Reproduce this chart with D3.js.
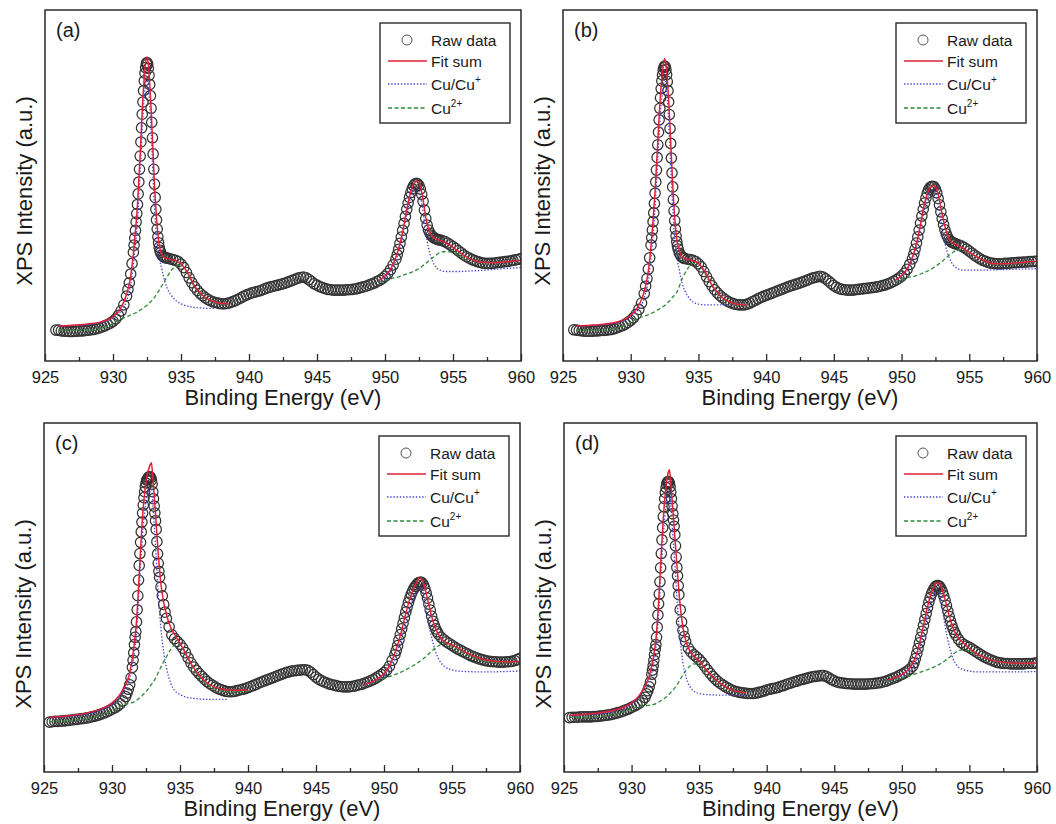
<!DOCTYPE html>
<html>
<head>
<meta charset="utf-8">
<script src="https://cdn.jsdelivr.net/npm/d3@7"></script>
<style>
  html, body { margin: 0; padding: 0; background: #fff; }
  svg { display: block; font-family: "Liberation Sans", Arial, sans-serif; }
</style>
</head>
<body>
<script>
// ---------------- data ----------------
// Binding energies of the scan points (eV)
const rawEnergy = [
  925.4, 925.6, 925.8, 926.0, 926.2, 926.4, 926.6, 926.8, 927.0, 927.2, 927.4, 927.6, 927.8, 928.0, 928.2, 928.4, 928.6, 928.8, 929.0, 929.2, 929.4, 929.6, 929.8, 930.0, 930.2, 930.4, 930.6, 930.8,
  931.0, 931.1, 931.2, 931.3, 931.4, 931.5, 931.55, 931.6, 931.65, 931.7, 931.75, 931.8, 931.85, 931.9, 931.95, 932.0, 932.05, 932.1, 932.15, 932.2, 932.25, 932.3, 932.35, 932.4, 932.45, 932.5, 932.55, 932.6, 932.65, 932.7, 932.75, 932.8, 932.85, 932.9, 932.95, 933.0, 933.05, 933.1, 933.15, 933.2, 933.25, 933.3, 933.35, 933.4, 933.45, 933.5, 933.6, 933.7, 933.8, 933.9, 934.0,
  934.2, 934.4, 934.6, 934.8, 935.0, 935.2, 935.4, 935.6, 935.8, 936.0, 936.2, 936.4, 936.6, 936.8, 937.0, 937.2, 937.4, 937.6, 937.8, 938.0, 938.2, 938.4, 938.6, 938.8, 939.0, 939.2, 939.4, 939.6, 939.8, 940.0, 940.2, 940.4, 940.6, 940.8, 941.0, 941.2, 941.4, 941.6, 941.8, 942.0, 942.2, 942.4, 942.6, 942.8, 943.0, 943.2, 943.4, 943.6, 943.8, 944.0, 944.2, 944.4, 944.6, 944.8, 945.0, 945.2, 945.4, 945.6, 945.8, 946.0, 946.2, 946.4, 946.6, 946.8, 947.0, 947.2, 947.4, 947.6, 947.8, 948.0, 948.2, 948.4, 948.6, 948.8, 949.0, 949.2, 949.4, 949.6, 949.8, 950.0, 950.2, 950.4, 950.6,
  950.8, 950.9, 951.0, 951.1, 951.2, 951.3, 951.4, 951.5, 951.6, 951.7, 951.8, 951.9, 952.0, 952.1, 952.2, 952.3, 952.4, 952.5, 952.6, 952.7, 952.8, 952.9, 953.0, 953.1, 953.2, 953.3, 953.4, 953.5, 953.6, 953.7, 953.8, 953.9, 954.0,
  954.2, 954.4, 954.6, 954.8, 955.0, 955.2, 955.4, 955.6, 955.8, 956.0, 956.2, 956.4, 956.6, 956.8, 957.0, 957.2, 957.4, 957.6, 957.8, 958.0, 958.2, 958.4, 958.6, 958.8, 959.0, 959.2, 959.4, 959.6, 959.8, 960.0
];

// Measured Cu 2p intensity (a.u.), one list per sample
const rawA = [
  null, null, 8.8, 8.8, 8.6, 8.5, 8.5, 8.4, 8.4, 8.5, 8.5, 8.6, 8.6, 8.7, 8.8, 8.9, 9.0, 9.2, 9.4, 9.7, 10.0, 10.4, 10.8, 11.3, 12.0, 13.0, 14.3, 16.0,
  18.5, 20.4, 22.3, 24.8, 27.8, 31.0, 33.0, 35.0, 37.2, 39.6, 42.0, 44.6, 47.6, 51.0, 54.6, 58.4, 62.4, 66.4, 70.3, 73.8, 77.0, 79.8, 82.0, 83.6, 84.7, 85.0, 84.6, 83.4, 81.4, 78.8, 75.6, 72.0, 68.0, 63.6, 59.0, 54.6, 50.4, 46.6, 43.2, 40.2, 37.6, 35.4, 33.7, 32.4, 31.5, 30.9, 30.1, 29.7, 29.5, 29.4, 29.3,
  29.1, 28.9, 28.7, 28.3, 27.6, 26.6, 25.2, 23.7, 22.3, 21.1,
  20.1, 19.3, 18.6, 18.0, 17.5, 17.1, 16.8, 16.6, 16.4, 16.3,
  16.3, 16.4, 16.6, 16.9, 17.2, 17.6, 18.0, 18.4, 18.8, 19.1,
  19.4, 19.6, 19.8, 20.0, 20.3, 20.6, 20.9, 21.1, 21.3, 21.5,
  21.7, 21.9, 22.1, 22.4, 22.7, 23.0, 23.3, 23.6, 23.8, 23.9,
  23.7, 23.2, 22.6, 22.0, 21.6, 21.2, 20.9, 20.6, 20.4, 20.3,
  20.2, 20.2, 20.2, 20.2, 20.2, 20.3, 20.3, 20.4, 20.5, 20.7,
  20.9, 21.1, 21.3, 21.6, 21.9, 22.2, 22.6, 23.0, 23.5, 24.1,
  24.9, 26.0, 27.4,
  29.0, 30.3, 31.8, 33.5, 35.3, 37.2, 39.2, 41.2, 43.2, 45.0, 46.6, 48.0, 49.1, 49.9, 50.4, 50.6, 50.5, 50.0, 49.0, 47.5, 45.5, 43.0, 40.6, 38.7, 37.3, 36.4, 35.8, 35.4, 35.1, 34.9, 34.7, 34.6, 34.5,
  34.3, 34.0, 33.6, 33.1, 32.6, 32.0, 31.4, 30.8, 30.2, 29.7, 29.3, 28.9, 28.6, 28.3, 28.1, 27.9, 27.8, 27.8, 27.8, 27.9, 28.0, 28.1, 28.2, 28.3, 28.4, 28.5, 28.7, 28.8, 29.0, 29.2
];
const rawB = [
  null, null, 8.9, 8.8, 8.7, 8.6, 8.5, 8.5, 8.5, 8.5, 8.6, 8.6, 8.7, 8.7, 8.8, 8.9, 9.0, 9.2, 9.5, 9.8, 10.1, 10.5, 11.0, 11.6, 12.3, 13.3, 14.7, 16.5,
  19.2, 21.3, 23.5, 26.2, 29.4, 33.0, 35.1, 37.3, 39.7, 42.2, 44.9, 47.8, 51.0, 54.4, 58.0, 61.6, 65.2, 68.7, 72.0, 75.0, 77.6, 79.8, 81.5, 82.8, 83.6, 84.0, 83.8, 83.0, 81.6, 79.6, 77.0, 73.8, 70.2, 66.2, 62.0, 57.8, 53.6, 49.6, 46.0, 42.8, 40.0, 37.6, 35.6, 34.0, 32.8, 31.9, 30.7, 30.0, 29.6, 29.3, 29.2,
  29.0, 28.9, 28.7, 28.3, 27.7, 26.8, 25.5, 24.0, 22.6, 21.4,
  20.3, 19.4, 18.6, 18.0, 17.4, 16.9, 16.6, 16.3, 16.1, 16.0,
  16.0, 16.0, 16.2, 16.5, 16.9, 17.3, 17.7, 18.1, 18.4, 18.7,
  19.0, 19.3, 19.6, 19.9, 20.2, 20.5, 20.8, 21.1, 21.4, 21.6,
  21.9, 22.1, 22.4, 22.7, 23.0, 23.3, 23.6, 23.8, 24.0, 24.1,
  23.9, 23.4, 22.8, 22.1, 21.5, 21.0, 20.6, 20.4, 20.3, 20.2,
  20.2, 20.2, 20.3, 20.4, 20.5, 20.6, 20.7, 20.8, 20.9, 21.0,
  21.1, 21.3, 21.5, 21.7, 22.0, 22.3, 22.7, 23.1, 23.6, 24.2,
  25.0, 26.1, 27.5,
  29.1, 30.4, 31.9, 33.6, 35.4, 37.3, 39.3, 41.3, 43.2, 45.0, 46.5, 47.8, 48.8, 49.4, 49.7, 49.8, 49.6, 49.0, 47.9, 46.3, 44.5, 42.5, 40.6, 38.9, 37.4, 36.2, 35.3, 34.6, 34.2, 33.9, 33.7, 33.5, 33.4,
  33.1, 32.8, 32.4, 31.9, 31.3, 30.7, 30.1, 29.6, 29.1, 28.7, 28.4, 28.1, 27.9, 27.8, 27.7, 27.7, 27.7, 27.8, 27.8, 27.9, 28.0, 28.0, 28.1, 28.1, 28.2, 28.2, 28.3, 28.3, 28.4, 28.4
];
const rawC = [
  14.3, 14.4, 14.5, 14.5, 14.6, 14.6, 14.7, 14.8, 14.9, 15.0, 15.1, 15.2, 15.3, 15.4, 15.5, 15.7, 15.9, 16.1, 16.3, 16.6, 16.9, 17.2, 17.6, 18.0, 18.4, 18.9, 19.5, 20.4,
  21.6, 22.6, 23.7, 25.0, 27.0, 30.0, 32.0, 34.2, 36.5, 38.6, 40.2, 43.0, 46.5, 50.5, 55.0, 59.2, 62.6, 65.8, 68.8, 71.6, 74.2, 76.5, 78.6, 80.3, 81.7, 82.8, 83.6, 83.8, 84.2, 84.5, 84.6, 84.6, 84.3, 83.6, 82.5, 80.3, 78.3, 76.2, 74.2, 72.0, 69.5, 66.0, 62.5, 59.8, 57.5, 55.8, 53.0, 50.5, 48.0, 45.8, 44.0,
  41.6, 39.3, 38.2, 37.4, 36.6, 35.5, 34.2, 32.7, 31.3, 30.1,
  29.1, 28.2, 27.4, 26.6, 25.9, 25.3, 24.8, 24.3, 23.9, 23.6,
  23.3, 23.1, 23.0, 23.0, 23.1, 23.3, 23.5, 23.7, 23.9, 24.2,
  24.5, 24.8, 25.1, 25.5, 25.8, 26.1, 26.4, 26.7, 27.0, 27.3,
  27.6, 27.9, 28.2, 28.5, 28.7, 28.9, 29.0, 29.1, 29.2, 29.3,
  29.3, 29.1, 28.6, 27.9, 27.2, 26.6, 26.2, 25.8, 25.5, 25.2,
  25.0, 24.8, 24.6, 24.5, 24.4, 24.4, 24.4, 24.5, 24.6, 24.8,
  25.0, 25.2, 25.5, 25.8, 26.1, 26.5, 26.9, 27.4, 27.9, 28.5,
  29.2, 30.3, 32.0,
  33.6, 34.8, 36.2, 37.8, 39.4, 41.0, 42.6, 44.2, 45.8, 47.2, 48.6, 49.8, 50.9, 51.8, 52.6, 53.2, 53.7, 54.1, 54.3, 54.4, 54.2, 53.6, 52.6, 51.3, 49.8, 48.1, 46.4, 44.7, 43.2, 42.0, 41.0, 40.2, 39.5,
  38.6, 37.9, 37.3, 36.8, 36.3, 35.8, 35.3, 34.9, 34.5, 34.1, 33.7, 33.3, 33.0, 32.7, 32.4, 32.2, 32.0, 31.8, 31.7, 31.6, 31.6, 31.5, 31.5, 31.5, 31.6, 31.6, 31.7, 31.9, 32.2, 32.6
];
const rawD = [
  15.6, 15.7, 15.7, 15.7, 15.8, 15.8, 15.8, 15.8, 15.8, 15.9, 15.9, 16.0, 16.1, 16.2, 16.3, 16.4, 16.6, 16.8, 17.0, 17.2, 17.5, 17.8, 18.1, 18.5, 18.9, 19.3, 19.8, 20.5,
  21.4, 22.4, 23.3, 24.4, 25.8, 28.0, 29.2, 30.5, 32.0, 33.6, 35.2, 36.5, 38.6, 41.5, 45.0, 48.2, 51.0, 54.5, 58.5, 62.6, 66.5, 70.0, 73.2, 76.0, 78.3, 80.1, 81.5, 82.5, 83.0, 83.2, 83.2, 82.7, 81.7, 80.2, 78.3, 76.2, 74.0, 72.2, 70.4, 68.0, 64.8, 61.6, 58.6, 56.2, 53.4, 50.8, 46.5, 43.0, 40.6, 38.8, 37.4,
  35.5, 34.4, 33.6, 33.0, 32.3, 31.4, 30.4, 29.3, 28.3, 27.4,
  26.6, 25.9, 25.3, 24.8, 24.3, 23.9, 23.5, 23.2, 23.0, 22.8,
  22.7, 22.6, 22.5, 22.5, 22.5, 22.6, 22.8, 23.0, 23.2, 23.5,
  23.7, 23.9, 24.0, 24.2, 24.5, 24.7, 25.0, 25.3, 25.5, 25.8,
  26.0, 26.3, 26.5, 26.7, 26.9, 27.1, 27.3, 27.4, 27.5, 27.6,
  27.6, 27.4, 27.0, 26.5, 26.1, 25.8, 25.6, 25.5, 25.4, 25.3,
  25.3, 25.2, 25.2, 25.2, 25.2, 25.2, 25.2, 25.3, 25.3, 25.4,
  25.5, 25.6, 25.8, 26.0, 26.3, 26.6, 26.9, 27.2, 27.6, 28.0,
  28.4, 28.9, 29.5,
  30.3, 31.3, 32.5, 33.9, 35.4, 37.0, 38.6, 40.3, 42.0, 43.7, 45.4, 47.1, 48.7, 50.0, 51.1, 52.0, 52.7, 53.2, 53.4, 53.4, 53.1, 52.5, 51.6, 50.5, 49.2, 47.7, 46.1, 44.6, 43.2, 42.0, 40.9, 40.0, 39.2,
  38.0, 37.1, 36.5, 36.1, 35.7, 35.2, 34.7, 34.2, 33.7, 33.2, 32.8, 32.4, 32.1, 31.8, 31.5, 31.3, 31.2, 31.1, 31.1, 31.0, 31.0, 31.0, 31.0, 31.0, 31.0, 31.1, 31.1, 31.1, 31.2, 31.2
];

// Energies of the fitted curves: 2p3/2 window, then 2p1/2 window
const fitEnergy = [
  925.4, 926.0, 927.0, 928.0, 929.0, 929.5, 930.0, 930.5, 931.0, 931.3, 931.6, 931.8, 932.0, 932.2, 932.4, 932.5, 932.6, 932.7, 932.8, 932.9, 933.0, 933.2, 933.4, 933.6, 933.8, 934.0, 934.3, 934.6, 935.0, 935.5, 936.0, 936.5, 937.0, 937.5, 938.0, 938.5, 939.0, 939.5, 940.0,
  948.5, 949.0, 949.5, 950.0, 950.5, 951.0, 951.3, 951.6, 951.9, 952.2, 952.4, 952.6, 952.8, 953.0, 953.2, 953.5, 953.8, 954.1, 954.5, 955.0, 955.5, 956.0, 957.0, 958.0, 959.0, 960.0
];

// Fit sum, Cu/Cu+ component and Cu2+ component for each sample
const fitSumA = [
  null, 10.0, 10.2, 10.5, 11.0, 11.6, 12.6, 14.6, 19.0, 24.2, 34.8, 44.6, 59.0, 75.0, 85.0, 86.6, 84.2, 79.0, 72.0, 63.4, 54.4, 40.8, 33.0, 30.2, 29.4, 29.1, 28.9, 28.6, 27.7, 25.0, 21.4, 19.0, 17.6, 16.8, 16.4, 16.3, null, null, null,
  null, null, 22.8, 24.2, 26.8, 32.0, 36.8, 43.2, 48.2, 51.0, 51.3, 49.6, 46.0, 40.8, 37.6, 35.4, 34.7, 34.3, 33.7, 32.4, 30.9, 29.6, 28.2, 28.0, 28.3, 28.7
];
const cuA = [
  null, 9.9, 10.1, 10.3, 10.8, 11.3, 12.2, 13.8, 17.2, 21.8, 31.0, 40.2, 54.0, 69.5, 79.0, 80.5, 78.0, 72.8, 65.6, 56.8, 47.6, 35.4, 29.6, 26.0, 22.8, 20.6, 18.6, 17.3, 16.3, 15.6, 15.3, 15.1, 15.0, 15.0, null, null, null, null, null,
  null, null, 22.5, 23.8, 26.2, 31.0, 35.5, 41.8, 46.6, 49.2, 49.0, 46.8, 42.6, 36.5, 32.2, 28.4, 26.5, 25.8, 25.5, 25.5, 25.5, 25.6, 25.8, 26.1, 26.4, 26.6
];
const cu2A = [
  null, 8.9, 8.7, 8.7, 9.2, 9.8, 10.7, 11.8, 12.6, 13.1, 13.6, 14.0, 14.5, 15.0, 15.6, 15.9, 16.2, 16.6, 17.0, 17.4, 17.9, 19.0, 20.2, 21.5, 22.8, 24.1, 25.9, 27.0, 27.4, 24.6, 21.0, 18.7, 17.3, 16.6, 16.2, 16.1, null, null, null,
  null, null, 22.3, 23.0, 23.5, 24.0, 24.4, 24.8, 25.2, 25.7, 26.1, 26.6, 27.2, 27.8, 28.5, 29.4, 30.3, 31.0, 31.2, 30.8, 30.0, 29.2, 28.2, 28.0, 28.3, 28.7
];

const fitSumB = [
  null, 10.0, 10.2, 10.5, 11.1, 11.8, 13.0, 15.2, 19.8, 25.6, 37.5, 48.5, 62.5, 76.0, 84.0, 86.2, 84.5, 80.5, 74.5, 67.0, 58.5, 43.5, 34.8, 31.2, 29.8, 29.2, 28.9, 28.6, 27.8, 25.3, 21.6, 19.1, 17.4, 16.5, 16.1, 16.0, null, null, null,
  null, null, 22.9, 24.3, 26.9, 32.0, 36.9, 43.1, 47.7, 49.7, 50.0, 48.8, 45.8, 41.8, 38.4, 35.0, 33.6, 33.0, 32.2, 31.0, 29.8, 28.7, 27.7, 27.8, 28.1, 28.4
];
const cuB = [
  null, 9.9, 10.1, 10.3, 10.9, 11.5, 12.6, 14.4, 18.0, 23.0, 33.6, 44.0, 57.6, 70.8, 78.4, 80.2, 78.6, 74.6, 68.4, 60.6, 51.8, 37.6, 30.0, 25.6, 22.2, 20.0, 18.0, 16.8, 16.2, 16.0, 16.0, 16.0, 16.0, 16.0, null, null, null, null, null,
  null, null, 22.6, 23.9, 26.3, 31.0, 35.6, 41.6, 46.2, 48.2, 48.3, 46.6, 42.8, 37.6, 33.6, 29.6, 27.4, 26.4, 25.9, 25.9, 25.9, 25.9, 26.0, 26.1, 26.2, 26.3
];
const cu2B = [
  null, 8.9, 8.8, 8.8, 9.3, 10.0, 11.0, 12.1, 12.8, 13.2, 13.7, 14.1, 14.6, 15.0, 15.5, 15.8, 16.1, 16.5, 16.9, 17.3, 17.8, 18.6, 19.6, 21.4, 23.4, 25.0, 26.8, 27.8, 27.8, 24.8, 21.3, 18.9, 17.2, 16.4, 16.0, 15.9, null, null, null,
  null, null, 22.4, 23.2, 23.8, 24.2, 24.6, 25.1, 25.6, 26.2, 26.7, 27.2, 27.8, 28.4, 29.1, 30.1, 31.0, 31.6, 31.8, 30.8, 29.7, 28.6, 27.6, 27.7, 28.0, 28.3
];

const fitSumC = [
  15.6, 15.8, 16.2, 16.8, 17.8, 18.6, 19.8, 21.8, 25.0, 28.4, 35.6, 43.0, 56.5, 70.5, 80.0, 83.2, 85.4, 86.8, 88.0, 88.6, 84.5, 74.0, 62.5, 53.8, 48.6, 45.2, 41.6, 39.4, 36.9, 33.3, 29.9, 27.3, 25.5, 24.4, 23.8, 23.5, 23.4, 23.4, 23.5,
  24.9, 25.6, 26.6, 28.2, 31.2, 36.4, 40.6, 45.4, 49.6, 52.8, 54.4, 55.6, 55.2, 52.8, 49.6, 44.6, 41.0, 38.9, 37.2, 36.4, 35.4, 34.3, 32.6, 31.8, 31.5, 31.7
];
const cuC = [
  15.4, 15.6, 16.0, 16.5, 17.4, 18.1, 19.2, 21.0, 23.8, 26.8, 33.2, 40.0, 52.5, 65.5, 74.5, 77.5, 79.6, 80.8, 81.6, 81.8, 77.0, 64.5, 51.0, 41.0, 34.5, 30.0, 25.6, 23.4, 22.2, 21.4, 21.1, 20.9, 20.8, 20.8, 20.8, 20.8, null, null, null,
  24.8, 25.4, 26.3, 27.6, 30.2, 34.6, 38.4, 42.8, 46.8, 50.0, 51.6, 52.8, 52.2, 48.6, 44.0, 38.6, 34.4, 31.8, 30.1, 29.3, 28.9, 28.8, 28.7, 28.7, 28.8, 28.9
];
const cu2C = [
  14.4, 14.5, 14.8, 15.2, 16.0, 16.6, 17.5, 18.6, 19.4, 19.7, 20.0, 20.5, 21.1, 21.8, 22.6, 23.0, 23.5, 24.0, 24.6, 25.1, 25.6, 26.9, 28.5, 30.1, 31.6, 33.0, 35.0, 36.4, 36.8, 33.2, 29.4, 26.8, 25.0, 24.0, 23.4, 23.1, 23.0, 23.0, 23.1,
  24.7, 25.3, 26.0, 26.8, 27.5, 28.2, 28.7, 29.3, 29.9, 30.6, 31.1, 31.6, 32.2, 32.8, 33.5, 34.6, 35.6, 36.4, 36.9, 36.0, 34.9, 33.8, 32.2, 31.5, 31.3, 31.5
];

const fitSumD = [
  16.2, 16.4, 16.7, 17.2, 18.0, 18.7, 19.8, 21.6, 24.6, 27.4, 32.6, 38.0, 48.5, 63.0, 75.5, 80.0, 83.4, 85.6, 86.6, 83.0, 78.0, 67.6, 57.0, 47.6, 41.4, 37.8, 34.8, 33.3, 31.8, 29.4, 27.3, 25.6, 24.3, 23.4, 22.9, 22.6, null, null, null,
  null, 26.4, 27.0, 27.9, 29.4, 32.8, 36.8, 42.0, 47.4, 51.6, 53.4, 54.2, 54.0, 52.0, 49.4, 44.8, 41.2, 38.8, 37.2, 35.4, 34.0, 33.0, 31.7, 31.2, 31.1, 31.2
];
const cuD = [
  16.0, 16.2, 16.5, 16.9, 17.6, 18.3, 19.3, 20.9, 23.4, 25.8, 30.4, 35.2, 45.0, 58.6, 70.4, 74.6, 77.8, 79.8, 80.6, 76.8, 71.2, 59.6, 47.4, 37.6, 31.4, 27.6, 24.6, 23.2, 22.5, 22.2, 22.1, 22.0, 22.0, 22.0, 22.0, 22.0, null, null, null,
  null, 26.2, 26.8, 27.5, 28.7, 31.4, 35.0, 40.0, 45.2, 49.4, 51.2, 51.8, 50.6, 46.8, 41.8, 36.2, 32.4, 30.4, 29.4, 28.9, 28.7, 28.7, 28.7, 28.7, 28.7, 28.8
];
const cu2D = [
  15.6, 15.7, 15.8, 16.1, 16.8, 17.4, 18.1, 18.7, 19.0, 19.1, 19.3, 19.6, 20.0, 20.5, 21.0, 21.3, 21.6, 22.0, 22.4, 22.8, 23.2, 24.1, 25.2, 26.5, 27.9, 29.0, 30.3, 31.0, 30.6, 29.0, 27.0, 25.4, 24.2, 23.3, 22.8, 22.5, null, null, null,
  null, 26.0, 26.5, 27.0, 27.5, 28.1, 28.5, 28.9, 29.3, 29.8, 30.1, 30.5, 30.9, 31.4, 31.9, 32.8, 33.8, 34.6, 35.0, 34.7, 33.8, 33.0, 31.7, 31.2, 31.1, 31.2
];

// Axis ticks and text
const majorTicks = [925, 930, 935, 940, 945, 950, 955, 960];
const minorTicks = [927.5, 932.5, 937.5, 942.5, 947.5, 952.5, 957.5];
const panelLabels = ["(a)", "(b)", "(c)", "(d)"];
const xTitle = "Binding Energy (eV)";
const yTitle = "XPS Intensity (a.u.)";

// ---------------- layout ----------------
const W = 1056, H = 824;
const layout = [
  { left: 45,  top: 10,  width: 476, height: 351, yTitleCy: 191 },
  { left: 563, top: 10,  width: 474, height: 351, yTitleCy: 191 },
  { left: 44,  top: 423, width: 476, height: 349, yTitleCy: 614 },
  { left: 564, top: 423, width: 473, height: 349, yTitleCy: 614 }
];
const series = [
  { raw: rawA, sum: fitSumA, cu: cuA, cu2: cu2A },
  { raw: rawB, sum: fitSumB, cu: cuB, cu2: cu2B },
  { raw: rawC, sum: fitSumC, cu: cuC, cu2: cu2C },
  { raw: rawD, sum: fitSumD, cu: cuD, cu2: cu2D }
];

const COL = {
  marker: "#333333",
  sum: "#e0203a",
  cu: "#4444d4",
  cu2: "#2f8a3a",
  frame: "#2a2a2a",
  text: "#1a1a1a"
};
const styles = {
  cu2: { stroke: COL.cu2, width: 1.3, dash: "4,2.5" },
  cu:  { stroke: COL.cu,  width: 1.3, dash: "1.4,1.8" },
  sum: { stroke: COL.sum, width: 1.5, dash: null }
};

const svg = d3.select("body").append("svg")
  .attr("width", W).attr("height", H)
  .attr("viewBox", `0 0 ${W} ${H}`);
svg.append("rect").attr("width", W).attr("height", H).attr("fill", "#fff");

layout.forEach((L, i) => {
  const S = series[i];
  const g = svg.append("g").attr("transform", `translate(${L.left},${L.top})`);
  const x = d3.scaleLinear().domain([925, 960]).range([0, L.width]);
  const y = d3.scaleLinear().domain([0, 100]).range([L.height, 0]);

  const clipId = "clip" + i;
  g.append("clipPath").attr("id", clipId)
    .append("rect").attr("width", L.width).attr("height", L.height);

  const plot = g.append("g").attr("clip-path", `url(#${clipId})`);

  // measured points
  const pts = rawEnergy.map((e, k) => ({ e, v: S.raw[k] })).filter(d => d.v != null);
  plot.append("g").selectAll("circle").data(pts).join("circle")
    .attr("cx", d => x(d.e)).attr("cy", d => y(d.v)).attr("r", 5.2)
    .attr("fill", "none").attr("stroke", COL.marker).attr("stroke-width", 1.25);

  // fitted curves, each drawn over the two fit windows
  const line = d3.line()
    .defined(d => d.v != null)
    .x(d => x(d.e)).y(d => y(d.v))
    .curve(d3.curveMonotoneX);
  ["cu2", "cu", "sum"].forEach(key => {
    const arr = fitEnergy.map((e, k) => ({ e, v: S[key][k] }));
    const st = styles[key];
    [arr.filter(d => d.e < 945), arr.filter(d => d.e > 945)].forEach(seg => {
      plot.append("path").datum(seg)
        .attr("d", line)
        .attr("fill", "none")
        .attr("stroke", st.stroke)
        .attr("stroke-width", st.width)
        .attr("stroke-dasharray", st.dash);
    });
  });

  // frame
  g.append("rect").attr("width", L.width).attr("height", L.height)
    .attr("fill", "none").attr("stroke", COL.frame).attr("stroke-width", 1.5);

  // bottom axis: inward major and minor ticks
  const ax = g.append("g").attr("transform", `translate(0,${L.height})`)
    .call(d3.axisBottom(x).tickValues(majorTicks).tickSize(-7).tickSizeOuter(0)
      .tickPadding(10).tickFormat(d3.format("d")));
  ax.select(".domain").remove();
  ax.selectAll(".tick line").attr("stroke", COL.frame).attr("stroke-width", 1.3);
  ax.selectAll(".tick text").attr("fill", COL.text)
    .style("font-size", "16.5px").style("font-family", "'Liberation Sans', Arial, sans-serif");

  const axMinor = g.append("g").attr("transform", `translate(0,${L.height})`)
    .call(d3.axisBottom(x).tickValues(minorTicks).tickSize(-4).tickSizeOuter(0).tickFormat(""));
  axMinor.select(".domain").remove();
  axMinor.selectAll(".tick line").attr("stroke", COL.frame).attr("stroke-width", 1.3);

  // axis titles
  g.append("text")
    .attr("x", L.width / 2).attr("y", L.height + 44)
    .attr("text-anchor", "middle").attr("fill", COL.text)
    .style("font-size", "22px")
    .text(xTitle);
  svg.append("text")
    .attr("transform", `translate(${L.left - 13},${L.yTitleCy}) rotate(-90)`)
    .attr("text-anchor", "middle").attr("fill", COL.text)
    .style("font-size", "22px")
    .text(yTitle);

  // panel label
  g.append("text")
    .attr("x", 11).attr("y", 27).attr("fill", COL.text)
    .style("font-size", "20px")
    .text(panelLabels[i]);

  // legend
  const bw = 130, bh = 100;
  const lg = g.append("g").attr("transform", `translate(${L.width - 11 - bw},13)`);
  lg.append("rect").attr("width", bw).attr("height", bh)
    .attr("fill", "#fff").attr("stroke", COL.frame).attr("stroke-width", 1.4);
  const rowY = [17, 38, 61, 85];
  const textX = 51;
  const fs = "15.5px";

  lg.append("circle").attr("cx", 27).attr("cy", rowY[0]).attr("r", 5)
    .attr("fill", "none").attr("stroke", "#555").attr("stroke-width", 1);
  lg.append("text").attr("x", textX).attr("y", rowY[0] + 6).attr("fill", COL.text)
    .style("font-size", fs).text("Raw data");

  [["sum", "Fit sum"], ["cu", null], ["cu2", null]].forEach(([key, label], j) => {
    const st = styles[key];
    const yy = rowY[j + 1];
    lg.append("line").attr("x1", 8).attr("x2", 47).attr("y1", yy).attr("y2", yy)
      .attr("stroke", st.stroke).attr("stroke-width", st.width)
      .attr("stroke-dasharray", st.dash);
    const t = lg.append("text").attr("x", textX).attr("y", yy + 6).attr("fill", COL.text)
      .style("font-size", fs);
    if (key === "sum") {
      t.text(label);
    } else if (key === "cu") {
      t.append("tspan").text("Cu/Cu");
      t.append("tspan").attr("dy", -7).style("font-size", "10px").text("+");
    } else {
      t.append("tspan").text("Cu");
      t.append("tspan").attr("dy", -7).style("font-size", "10px").text("2+");
    }
  });
});
</script>
</body>
</html>
